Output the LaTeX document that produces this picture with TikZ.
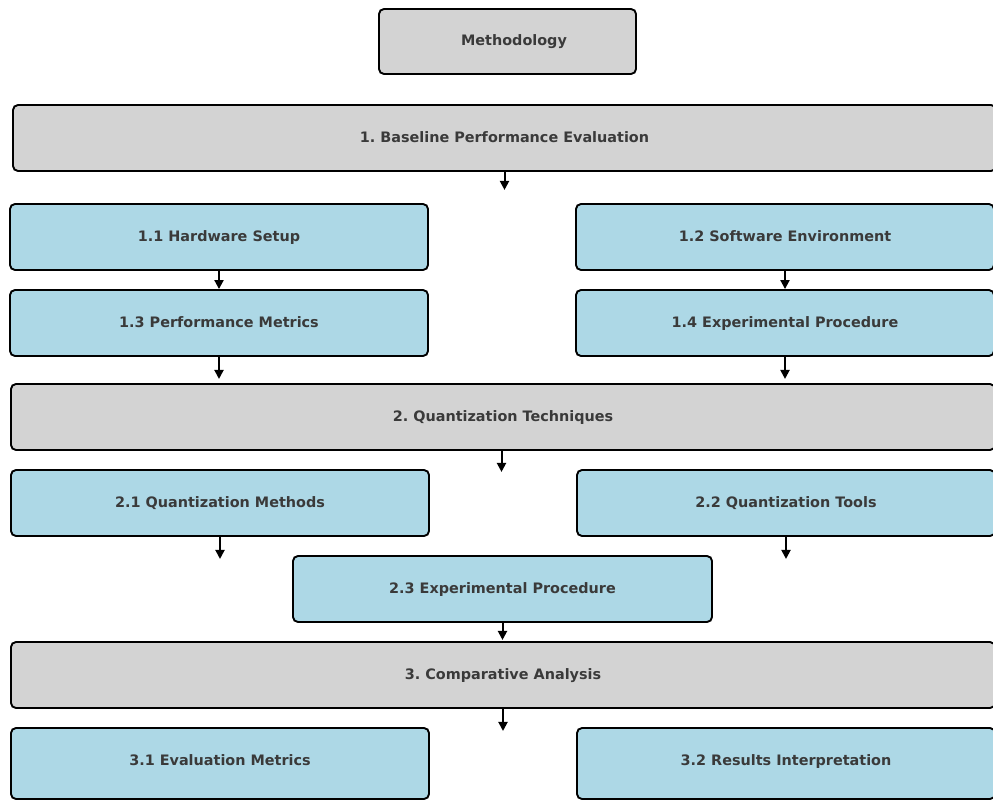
\documentclass[tikz,border=0pt]{standalone}
\usepackage{fontspec}
\setmainfont{DejaVu Sans}
\usetikzlibrary{arrows.meta}
\definecolor{boxgray}{HTML}{D3D3D3}
\definecolor{boxblue}{HTML}{ADD8E6}
\definecolor{txt}{HTML}{3A3A3A}
\frenchspacing
\tikzset{
  base/.style={draw=black, line width=1.9pt, rounded corners=5pt, inner sep=0pt,
    text=txt, font=\fontsize{14.4}{17}\selectfont\bfseries, anchor=center,
    text height=8.8pt, text depth=0pt},
  graybox/.style={base, fill=boxgray},
  bluebox/.style={base, fill=boxblue},
  arr/.style={line width=2pt, -{Triangle[length=9pt,width=9pt]}},
}
\begin{document}
\begin{tikzpicture}[x=1pt,y=-1pt]
\useasboundingbox (0,0) rectangle (993,800);
\clip (0,0) rectangle (993,800);
\node[graybox, minimum width=257, minimum height=65] (meth) at (507.5,41.5) {\hspace*{13pt}Methodology};
\node[graybox, minimum width=983, minimum height=66] (b1) at (504.5,138) {1. Baseline Performance Evaluation};
\node[bluebox, minimum width=418, minimum height=66] (h11) at (219,237) {1.1 Hardware Setup};
\node[bluebox, minimum width=418, minimum height=66] (h12) at (785,237) {1.2 Software Environment};
\node[bluebox, minimum width=418, minimum height=66] (h13) at (219,323) {1.3 Performance Metrics};
\node[bluebox, minimum width=418, minimum height=66] (h14) at (785,323) {1.4 Experimental Procedure};
\node[graybox, minimum width=984, minimum height=66] (b2) at (503,417) {2. Quantization Techniques};
\node[bluebox, minimum width=418, minimum height=66] (h21) at (220,503) {2.1 Quantization Methods};
\node[bluebox, minimum width=418, minimum height=66] (h22) at (786,503) {2.2 Quantization Tools};
\node[bluebox, minimum width=419, minimum height=66] (h23) at (502.5,589) {2.3 Experimental Procedure};
\node[graybox, minimum width=984, minimum height=66] (b3) at (503,675) {3. Comparative Analysis};
\node[bluebox, minimum width=418, minimum height=71] (h31) at (220,763.5) {\raisebox{2.5pt}{3.1 Evaluation Metrics}};
\node[bluebox, minimum width=418, minimum height=71] (h32) at (786,763.5) {\raisebox{2.5pt}{3.2 Results Interpretation}};
% arrows
\draw[arr] (b1.south) -- ++(0,18);
\draw[arr] (h11.south) -- (h13.north);
\draw[arr] (h12.south) -- (h14.north);
\draw[arr] (h13.south) -- ++(0,22);
\draw[arr] (h14.south) -- ++(0,22);
\draw[arr] ([xshift=-1.5pt]b2.south) -- ++(0,21);
\draw[arr] (h21.south) -- ++(0,22);
\draw[arr] (h22.south) -- ++(0,22);
\draw[arr] (h23.south) -- ++(0,17);
\draw[arr] (b3.south) -- ++(0,22);
\end{tikzpicture}
\end{document}
